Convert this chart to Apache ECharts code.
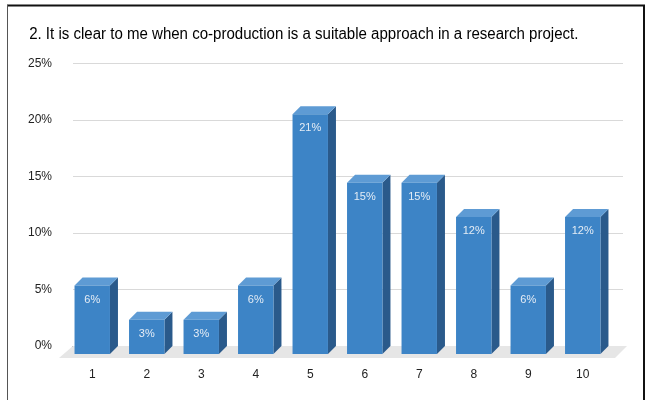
<!DOCTYPE html>
<html>
<head>
<meta charset="utf-8">
<script src="https://cdn.jsdelivr.net/npm/echarts@6/dist/echarts.min.js"></script>
<style>
html,body{margin:0;padding:0;background:#fff;}
#chart{width:646px;height:400px;}
</style>
</head>
<body>
<div id="chart"></div>
<script>
// Survey answers on a 1-10 scale, share of respondents (%)
const titleText = '2. It is clear to me when co-production is a suitable approach in a research project.';
const categories = ['1', '2', '3', '4', '5', '6', '7', '8', '9', '10'];
const shares = [6.06, 3.03, 3.03, 6.06, 21.21, 15.15, 15.15, 12.12, 6.06, 12.12];
const yTicks = [0, 5, 10, 15, 20, 25];

// depth offset of the 3D look (pixels)
const DX = 8, DY = -8;

const chart = echarts.init(document.getElementById('chart'), null, { renderer: 'canvas' });

function renderBar(params, api) {
  const i = api.value(0);
  const v = api.value(1);
  const top = api.coord([i, v]);
  const base = api.coord([i, 0]);
  const band = api.size([1, 0])[0];
  const w = band * 0.65;
  const x0 = top[0] - w / 2, x1 = top[0] + w / 2;
  const yT = top[1], yB = base[1];
  return {
    type: 'group',
    children: [
      { type: 'polygon', shape: { points: [[x1, yT], [x1 + DX, yT + DY], [x1 + DX, yB + DY], [x1, yB]] },
        style: { fill: '#2a5a8b' } },
      { type: 'polygon', shape: { points: [[x0, yT], [x1, yT], [x1 + DX, yT + DY], [x0 + DX, yT + DY]] },
        style: { fill: '#5e9bd4' } },
      { type: 'rect', shape: { x: x0, y: yT, width: w, height: yB - yT },
        style: { fill: '#3d84c6' } },
      { type: 'text', x: top[0], y: yT + 14,
        style: { text: Math.round(v) + '%', fill: '#e4ecf5', fontSize: 11, fontFamily: 'Liberation Sans, Arial',
                 align: 'center', verticalAlign: 'middle' } }
    ]
  };
}

function renderFloor(params, api) {
  const n = categories.length;
  const l = api.coord([0, 0]);
  const r = api.coord([n - 1, 0]);
  const band = api.size([1, 0])[0];
  const fl = l[0] - band / 2 - 6, fr = r[0] + band / 2 + 5;
  const yF = l[1] + 4;
  return {
    type: 'polygon',
    shape: { points: [[fl, yF], [fr, yF], [fr + DX + 4, yF + DY - 4], [fl + DX + 6, yF + DY - 4]] },
    style: { fill: '#e6e6e6' }
  };
}

const option = {
  animation: false,
  backgroundColor: '#ffffff',
  graphic: [
    { type: 'polyline', shape: { points: [[7, 5.5], [644, 5.5], [644, 400]] },
      style: { stroke: '#111', lineWidth: 2, fill: null } },
    { type: 'line', shape: { x1: 7.5, y1: 5, x2: 7.5, y2: 400 },
      style: { stroke: '#555', lineWidth: 1 } },
    { type: 'text', x: 27.5, y: 35, scaleX: 0.94, originX: 27.5, originY: 35,
      style: { text: titleText, fontSize: 16, fontFamily: 'Liberation Sans, Arial', fill: '#000',
               verticalAlign: 'middle' } }
  ],
  grid: [
    { left: 73, right: 23, top: 63.5, bottom: 54 },
    { left: 65, right: 36, top: 71.5, bottom: 46 }
  ],
  xAxis: [
    { type: 'category', gridIndex: 0, data: categories,
      axisLine: { show: true, lineStyle: { color: '#222', width: 1 } },
      axisTick: { show: false }, axisLabel: { show: false }, splitLine: { show: false } },
    { type: 'category', gridIndex: 1, data: categories,
      axisLine: { show: false }, axisTick: { show: false },
      axisLabel: { color: '#222', fontSize: 12, fontFamily: 'Liberation Sans, Arial', margin: 15 } }
  ],
  yAxis: [
    { type: 'value', gridIndex: 0, min: yTicks[0], max: yTicks[yTicks.length - 1], interval: 5,
      axisLine: { show: false }, axisTick: { show: false },
      axisLabel: { formatter: '{value}%', color: '#222', fontSize: 12, fontFamily: 'Liberation Sans, Arial', margin: 21 },
      splitLine: { lineStyle: { color: '#d9d9d9', width: 1 } } },
    { type: 'value', gridIndex: 1, min: yTicks[0], max: yTicks[yTicks.length - 1], interval: 5,
      axisLine: { show: false }, axisTick: { show: false }, axisLabel: { show: false }, splitLine: { show: false } }
  ],
  series: [
    { type: 'custom', xAxisIndex: 1, yAxisIndex: 1, z: 1, renderItem: renderFloor, data: [[0, 0]], silent: true },
    { type: 'custom', xAxisIndex: 1, yAxisIndex: 1, z: 3, renderItem: renderBar,
      data: shares.map((v, i) => [i, v]) }
  ]
};

chart.setOption(option);
</script>
</body>
</html>
